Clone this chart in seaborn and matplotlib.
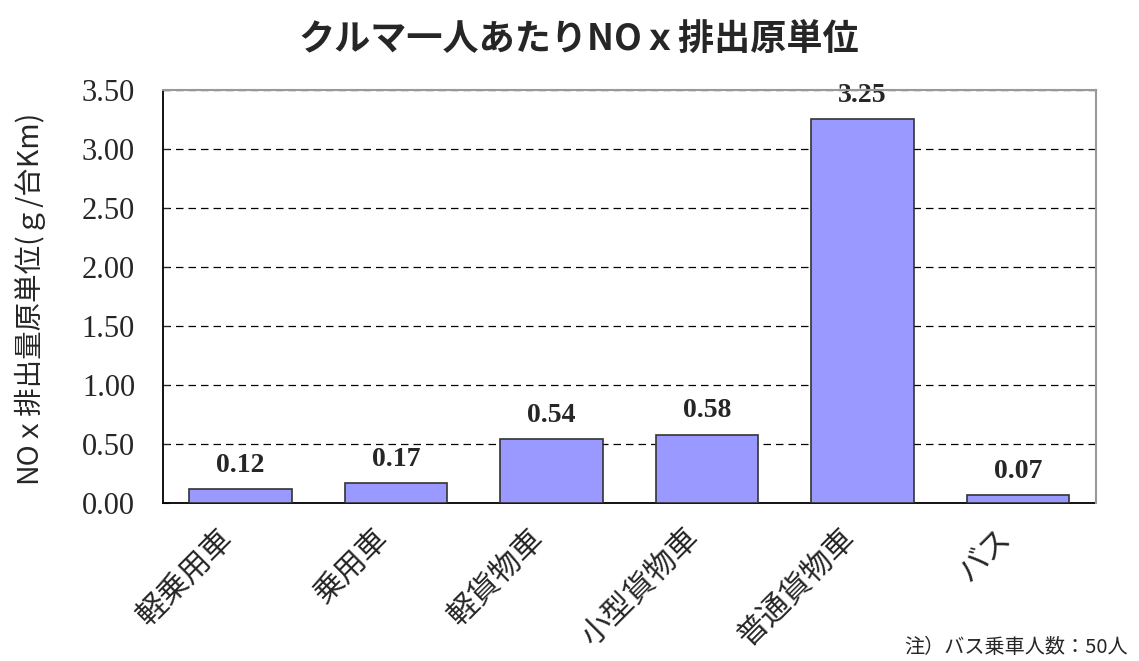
import matplotlib
matplotlib.use("Agg")
import matplotlib.pyplot as plt
import matplotlib.transforms as mtransforms
import seaborn as sns
import pandas as pd

categories = ["軽乗用車", "乗用車", "軽貨物車", "小型貨物車", "普通貨物車", "バス"]
nox_values = [0.12, 0.17, 0.54, 0.58, 3.25, 0.07]
y_ticks = [0.0, 0.5, 1.0, 1.5, 2.0, 2.5, 3.0, 3.5]

sns.set_style("white")
plt.rcParams['font.family'] = ['Noto Sans CJK JP', 'DejaVu Sans']

df = pd.DataFrame({"category": categories, "nox": nox_values})

fig = plt.figure(figsize=(11.39, 6.61), dpi=100)
ax = fig.add_axes([0.143, 0.239, 0.819, 0.625])

sns.barplot(data=df, x="category", y="nox", color="#9999ff", saturation=1,
            width=0.66, edgecolor="#333333", linewidth=1.2, ax=ax, zorder=3)

ax.set_ylim(0, 3.5)
ax.set_yticks(y_ticks)
ax.set_yticklabels([f"{v:.2f}" for v in y_ticks], family="Liberation Serif", fontsize=22)
ax.yaxis.grid(True, linestyle=(0, (6, 4)), color="black", linewidth=0.9)
ax.set_axisbelow(True)
ax.tick_params(axis="y", direction="in", length=4, left=True, pad=20)
ax.tick_params(axis="x", length=0, pad=14)

# shift rotated category labels a little down-left
shift = mtransforms.ScaledTranslation(-9 / 72, -8 / 72, fig.dpi_scale_trans)
for lbl in ax.get_xticklabels():
    lbl.set_rotation(45)
    lbl.set_ha("right")
    lbl.set_va("center")
    lbl.set_rotation_mode("anchor")
    lbl.set_fontsize(22)
    lbl.set_transform(lbl.get_transform() + shift)

for sp in ["left", "bottom"]:
    ax.spines[sp].set_color("black")
    ax.spines[sp].set_linewidth(1.3)
for sp in ["top", "right"]:
    ax.spines[sp].set_color("#999999")
    ax.spines[sp].set_linewidth(1.5)
    ax.spines[sp].set_zorder(5)

for i, v in enumerate(nox_values):
    ax.annotate(f"{v:.2f}", (i, v), xytext=(0, 8), textcoords="offset points",
                ha="center", va="bottom", family="Liberation Serif",
                fontweight="bold", fontsize=20)

ax.set_xlabel("")
ax.set_ylabel("NOｘ排出量原単位(ｇ/台Km)", fontsize=20.5)
ax.yaxis.set_label_coords(-0.128, 0.5)

fig.suptitle("クルマ一人あたりNOｘ排出原単位", fontsize=26, fontweight="bold",
             x=0.508, y=0.94, va="center")
fig.text(0.99, 0.004, "注）バス乗車人数：50人", ha="right", va="bottom", fontsize=14.5)

fig.savefig("out.png", dpi=100)
